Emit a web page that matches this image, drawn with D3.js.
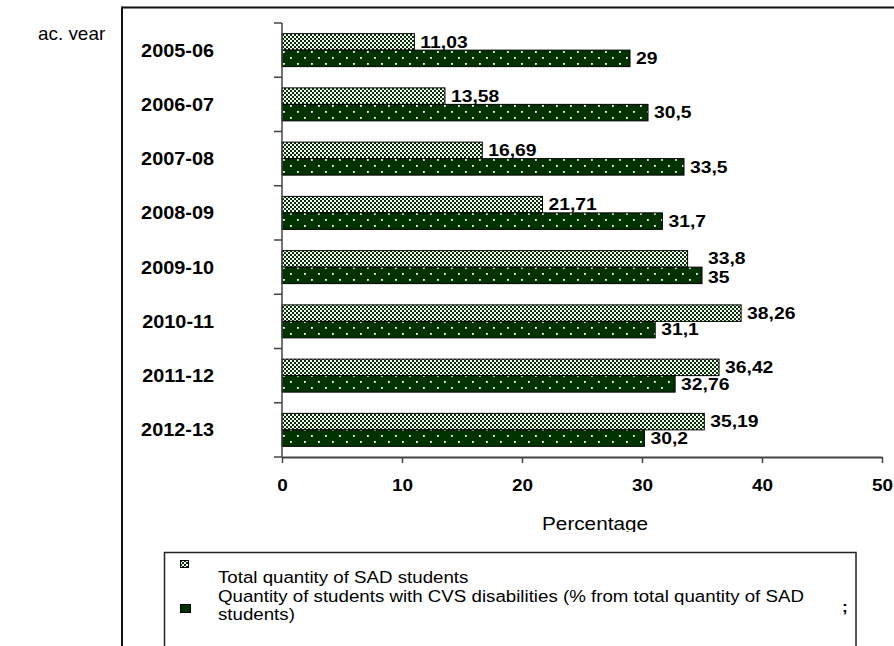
<!DOCTYPE html>
<html><head><meta charset="utf-8">
<script src="https://cdn.jsdelivr.net/npm/d3@7"></script>
<style>body{margin:0;background:#fff}svg{display:block}</style>
</head><body>
<svg id="c" width="894" height="646"></svg>
<script>
const categories = ["2005-06","2006-07","2007-08","2008-09","2009-10","2010-11","2011-12","2012-13"];
const totalSAD = [11.03,13.58,16.69,21.71,33.8,38.26,36.42,35.19];
const cvsShare = [29,30.5,33.5,31.7,35,31.1,32.76,30.2];
const xTicks = [0,10,20,30,40,50];
const legendLines = [["Total quantity of SAD students"],["Quantity of students with CVS disabilities (% from total quantity of SAD","students)"]];
const yAxisTitle = "ac. year";
const xAxisTitle = "Percentage";

const GREEN = "#003300";
const SX = 1.12;
const FONT = "'Liberation Sans', Arial, sans-serif";
const svg = d3.select("#c");
const defs = svg.append("defs");

const chk = defs.append("pattern").attr("id","chk").attr("patternUnits","userSpaceOnUse").attr("width",4).attr("height",4);
chk.append("rect").attr("width",4).attr("height",4).attr("fill","#fff");
chk.append("rect").attr("width",2).attr("height",2).attr("fill",GREEN);
chk.append("rect").attr("x",2).attr("y",2).attr("width",2).attr("height",2).attr("fill",GREEN);

const dots = defs.append("pattern").attr("id","dots").attr("patternUnits","userSpaceOnUse").attr("width",14).attr("height",12);
dots.append("rect").attr("width",14).attr("height",12).attr("fill",GREEN);
dots.append("rect").attr("x",3).attr("y",3).attr("width",1.8).attr("height",1.8).attr("fill","#fff");
dots.append("rect").attr("x",10).attr("y",9).attr("width",1.8).attr("height",1.8).attr("fill","#fff");

defs.append("clipPath").attr("id","clipTop").append("rect").attr("x",0).attr("y",0).attr("width",120).attr("height",40);
defs.append("clipPath").attr("id","clipPct").append("rect").attr("x",400).attr("y",490).attr("width",400).attr("height",42);

function stext(parent, x, y, str, opts){
  const g = parent.append("g").attr("transform",`translate(${x},${y}) scale(${opts.sx||SX},1)`);
  return g.append("text").attr("x",0).attr("y",0)
    .attr("font-family",FONT).attr("font-size",opts.size)
    .attr("font-weight",opts.weight||"normal")
    .attr("text-anchor",opts.anchor||"start").attr("fill","#000").text(str);
}

// frame lines
svg.append("line").attr("x1",122).attr("x2",894).attr("y1",7.5).attr("y2",7.5).attr("stroke","#111").attr("stroke-width",2);
svg.append("line").attr("x1",122).attr("x2",122).attr("y1",6.5).attr("y2",646).attr("stroke","#111").attr("stroke-width",2);

const x = d3.scaleLinear().domain([0,50]).range([282,882]);
const y = d3.scaleBand().domain(categories).range([23,457]).paddingInner(0.392).paddingOuter(0.196);
const ys = d3.scaleBand().domain(["total","cvs"]).range([0,y.bandwidth()]);

// title at top-left
stext(svg.append("g").attr("clip-path","url(#clipTop)"), 38, 39.5, yAxisTitle, {size:18, sx:1.05});

// category labels
categories.forEach(c=>{
  stext(svg, 214, y(c)+y.bandwidth()/2+6.5, c, {size:18.5, weight:"bold", anchor:"end", sx:1.075});
});

// bars
const rows = categories.map((c,i)=>({c, a:totalSAD[i], b:cvsShare[i]}));
const g = svg.append("g");
g.selectAll("rect.a").data(rows).join("rect").attr("class","a")
  .attr("x",x(0)).attr("y",d=>y(d.c)+ys("total")).attr("width",d=>x(d.a)-x(0)).attr("height",ys.bandwidth())
  .attr("fill","url(#chk)").attr("stroke","#000").attr("stroke-width",1);
g.selectAll("rect.b").data(rows).join("rect").attr("class","b")
  .attr("x",x(0)).attr("y",d=>y(d.c)+ys("cvs")).attr("width",d=>x(d.b)-x(0)).attr("height",ys.bandwidth())
  .attr("fill","url(#dots)").attr("stroke","#000").attr("stroke-width",1);

const fmt = v => String(v).replace(".",",");
rows.forEach(d=>{
  const ea = x(d.a), eb = x(d.b);
  const shifted = (eb > ea && eb - ea < 20);
  const la = shifted ? eb : ea;
  stext(svg, la+6, y(d.c)+ys("total")+ys.bandwidth()-(shifted?3.5:2.5), fmt(d.a), {size:16.8, weight:"bold", sx:1.15});
  stext(svg, eb+6, y(d.c)+ys("cvs")+ys.bandwidth()-(shifted?1:2.5), fmt(d.b), {size:16.8, weight:"bold", sx:1.15});
});

// y axis
const ax = svg.append("g").attr("stroke","#444").attr("stroke-width",1.5);
ax.append("line").attr("x1",x(0)).attr("x2",x(0)).attr("y1",y.range()[0]).attr("y2",y.range()[1]);
d3.range(categories.length+1).forEach(i=>{
  const yy = y.range()[0] + i*y.step();
  ax.append("line").attr("x1",x(0)-8).attr("x2",x(0)).attr("y1",yy).attr("y2",yy);
});

// x axis
const xa = svg.append("g").attr("transform",`translate(0,${y.range()[1]})`)
  .call(d3.axisBottom(x).tickValues(xTicks).tickSize(6).tickSizeOuter(0));
xa.select(".domain").attr("stroke","#444").attr("stroke-width",2);
xa.selectAll(".tick line").attr("stroke","#444").attr("stroke-width",1.5);
xa.selectAll(".tick text").attr("font-family",FONT).attr("font-size",17.2).attr("font-weight","bold")
  .attr("fill","#000").attr("y",34.5).attr("dy",0).attr("transform",`scale(1.1,1)`);

// x axis title
stext(svg.append("g").attr("clip-path","url(#clipPct)"), 595, 530, xAxisTitle, {size:18.5, anchor:"middle"});

// legend
svg.append("rect").attr("x",164.5).attr("y",552.5).attr("width",691.5).attr("height",110)
  .attr("fill","none").attr("stroke","#222").attr("stroke-width",1.5);
svg.append("rect").attr("x",180.5).attr("y",560.5).attr("width",8).attr("height",7).attr("fill","url(#chk)").attr("stroke","#000");
svg.append("rect").attr("x",180.5).attr("y",604.5).attr("width",10).attr("height",8).attr("fill","url(#dots)").attr("stroke","#000");
stext(svg, 218, 583, legendLines[0][0], {size:16.7});
stext(svg, 218, 602, legendLines[1][0], {size:16.7});
stext(svg, 218, 620, legendLines[1][1], {size:16.7});
stext(svg, 842, 612, ";", {size:15.5, weight:"bold"});
</script>
</body></html>
